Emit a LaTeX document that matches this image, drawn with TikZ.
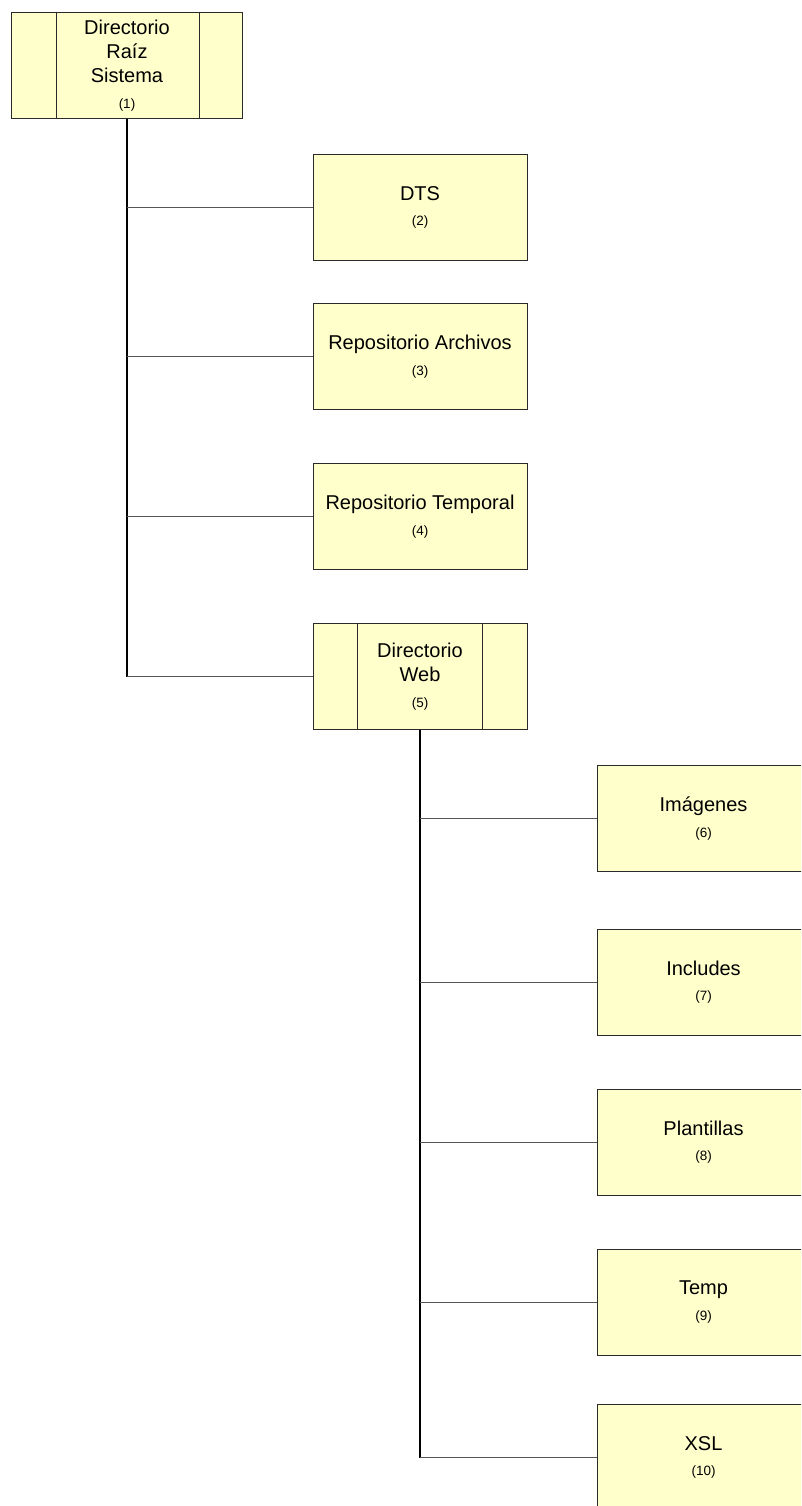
\documentclass[tikz,border=0pt]{standalone}
\usepackage{fontspec}
\setmainfont{Liberation Sans}
\definecolor{boxfill}{HTML}{FFFFCC}
\definecolor{boxline}{HTML}{2A2A2A}
\definecolor{branchline}{HTML}{555555}
\newcommand{\numlbl}[1]{{\fontsize{13.5}{24}\selectfont #1}}
\begin{document}
\begin{tikzpicture}[x=1pt,y=-1pt,
  box/.style={draw=boxline, line width=1pt, fill=boxfill, inner sep=0pt,
    minimum width=214pt, minimum height=106pt, align=center,
    font=\fontsize{20}{24}\selectfont},
  trunk/.style={draw=black, line width=1.5pt},
  branch/.style={draw=branchline, line width=1pt},
  divider/.style={draw=boxline, line width=1pt}]
\useasboundingbox (0,0) rectangle (801,1506);
\fill[white] (0,0) rectangle (801,1506);
\begin{scope}
\clip (0,0) rectangle (801,1506);
% nodes
\node[box, minimum width=231pt] (n1) at (127,65.5) {Directorio\\Raíz\\Sistema\\[1.5pt]\numlbl{(1)}};
\node[box] (n2) at (420,207.5) {DTS\\[1.5pt]\numlbl{(2)}};
\node[box] (n3) at (420,356.5) {Repositorio Archivos\\[1.5pt]\numlbl{(3)}};
\node[box] (n4) at (420,516.5) {Repositorio Temporal\\[1.5pt]\numlbl{(4)}};
\node[box] (n5) at (420,676.5) {Directorio\\Web\\[1.5pt]\numlbl{(5)}};
\node[box, minimum width=213pt] (n6) at (703.5,818.5) {Imágenes\\[1.5pt]\numlbl{(6)}};
\node[box, minimum width=213pt] (n7) at (703.5,982) {Includes\\[1.5pt]\numlbl{(7)}};
\node[box, minimum width=213pt] (n8) at (703.5,1142) {Plantillas\\[1.5pt]\numlbl{(8)}};
\node[box, minimum width=213pt] (n9) at (703.5,1302) {Temp\\[1.5pt]\numlbl{(9)}};
\node[box, minimum width=213pt] (n10) at (703.5,1457.5) {XSL\\[1.5pt]\numlbl{(10)}};
% split box dividers
\draw[divider] ([xshift=45pt]n1.north west) -- ([xshift=45pt]n1.south west);
\draw[divider] ([xshift=-44pt]n1.north east) -- ([xshift=-44pt]n1.south east);
\draw[divider] ([xshift=45pt]n5.north west) -- ([xshift=45pt]n5.south west);
\draw[divider] ([xshift=-45pt]n5.north east) -- ([xshift=-45pt]n5.south east);
% connectors from root
\coordinate (t1) at (n1.south |- n5.west);
\draw[trunk] (n1.south) -- (t1);
\draw[branch] (n1.south |- n2.west) -- (n2.west);
\draw[branch] (n1.south |- n3.west) -- (n3.west);
\draw[branch] (n1.south |- n4.west) -- (n4.west);
\draw[branch] (t1) -- (n5.west);
% connectors from web dir
\coordinate (t2) at (n5.south |- n10.west);
\draw[trunk] (n5.south) -- (t2);
\draw[branch] (n5.south |- n6.west) -- (n6.west);
\draw[branch] (n5.south |- n7.west) -- (n7.west);
\draw[branch] (n5.south |- n8.west) -- (n8.west);
\draw[branch] (n5.south |- n9.west) -- (n9.west);
\draw[branch] (t2) -- (n10.west);
\end{scope}
\end{tikzpicture}
\end{document}
